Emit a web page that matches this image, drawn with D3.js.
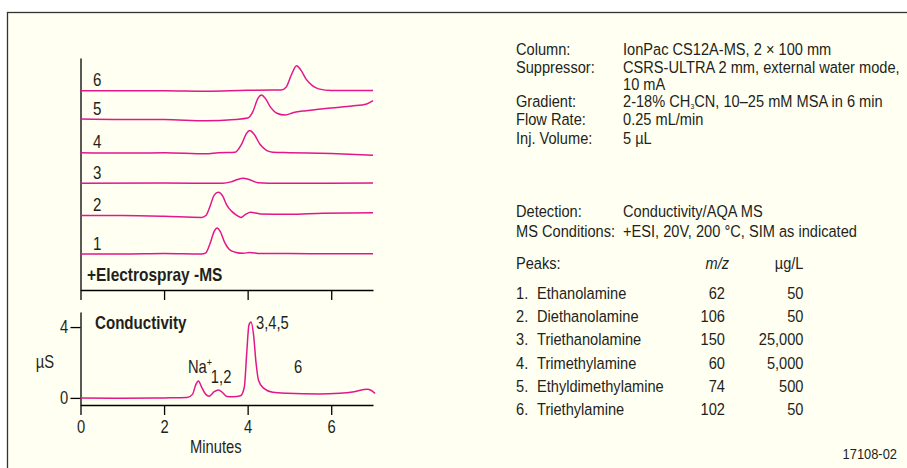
<!DOCTYPE html>
<html>
<head>
<meta charset="utf-8">
<script src="https://cdn.jsdelivr.net/npm/d3@7"></script>
<style>
  body { margin: 0; background: #fff; }
  svg text { font-family: "Liberation Sans", Arial, sans-serif; fill: #231f20; }
</style>
</head>
<body>
<div id="vis"></div>
<script>
// retention time axis, minutes
var timeTicks = [0, 2, 4, 6];
var condTicks = [0, 4];

// SIM channels, [minutes, relative response]
var msTrace1 = [[0, 0], [1, 0], [2, 0.02], [2.9, 0], [3.0, 0.05], [3.1, 0.45], [3.2, 0.98], [3.27, 1.12], [3.35, 0.95],
  [3.45, 0.5], [3.55, 0.22], [3.7, 0.08], [3.9, 0.03], [4.05, 0.07], [4.3, 0.02], [5, 0.02], [6, 0.01], [7, 0.01]];
var msTrace2 = [[0, 0], [1, 0], [2, -0.03], [2.9, -0.08], [3.0, 0], [3.1, 0.4], [3.2, 0.88], [3.3, 1.0], [3.4, 0.85],
  [3.5, 0.45], [3.62, 0.18], [3.75, 0], [3.84, -0.08], [3.95, 0.05], [4.07, 0.14], [4.3, 0.07], [5, 0.05], [5.8, 0.1], [7, 0.12]];
var msTrace3 = [[0, 0], [2, 0.01], [3.4, 0], [3.6, 0.06], [3.75, 0.16], [3.89, 0.22], [4.05, 0.15], [4.25, 0.02],
  [4.5, 0], [7, 0.01]];
var msTrace4 = [[0, 0], [1, -0.02], [2, 0], [3, -0.05], [3.3, 0], [3.7, 0.02], [3.85, 0.35], [3.97, 0.82], [4.05, 0.95],
  [4.15, 0.8], [4.3, 0.35], [4.45, 0.1], [4.6, 0.02], [5, 0], [6, -0.04], [7, -0.11]];
var msTrace5 = [[0, 0], [1, -0.02], [2, -0.02], [3, -0.08], [3.7, -0.02], [4.0, 0.04], [4.12, 0.3], [4.25, 0.9],
  [4.33, 1.03], [4.42, 0.9], [4.55, 0.5], [4.7, 0.25], [4.9, 0.17], [5.1, 0.28], [5.4, 0.36], [6, 0.48], [6.5, 0.56],
  [6.85, 0.65], [7, 0.79]];
var msTrace6 = [[0, 0], [1, 0], [2, 0], [3, -0.02], [4, 0.02], [4.8, 0.03], [4.92, 0.15], [5.05, 0.7], [5.17, 1.08],
  [5.27, 0.9], [5.4, 0.5], [5.55, 0.22], [5.7, 0.08], [6.0, 0.01], [7, 0.01]];
var msTraces = [msTrace1, msTrace2, msTrace3, msTrace4, msTrace5, msTrace6];
var msOffsets = [1.55, 3.21, 4.6, 5.92, 7.37, 8.59];

// suppressed conductivity, [minutes, uS]
var condTrace = [[0, 0], [1, -0.02], [2, 0], [2.55, 0.02], [2.68, 0.2], [2.76, 0.75], [2.82, 0.96], [2.9, 0.6],
  [3.0, 0.2], [3.08, 0.1], [3.2, 0.35], [3.3, 0.45], [3.4, 0.3], [3.5, 0.08], [3.65, 0.06], [3.83, 0.12], [3.92, 0.6],
  [3.98, 2.6], [4.03, 4.1], [4.08, 4.28], [4.14, 3.6], [4.2, 2.0], [4.26, 1.0], [4.38, 0.55], [4.6, 0.32], [4.94, 0.26],
  [5.7, 0.22], [6.2, 0.26], [6.55, 0.35], [6.86, 0.49], [6.96, 0.42], [7.05, 0.25]];
var condLabels = ['Na', '1,2', '3,4,5', '6'];
var condLabelTime = [2.57, 3.12, 4.2, 5.11];
var condLabelValue = [1.43, 0.85, 3.89, 1.41];

// conditions block
var condKeys = ['Column:', 'Suppressor:', '', 'Gradient:', 'Flow Rate:', 'Inj. Volume:', 'Detection:', 'MS Conditions:'];
var condValues = ['IonPac CS12A-MS, 2 \u00d7 100 mm', 'CSRS-ULTRA 2 mm, external water mode,', '10 mA',
  '2-18% CH_3CN, 10\u201325 mM MSA in 6 min', '0.25 mL/min', '5 \u00b5L', 'Conductivity/AQA MS',
  '+ESI, 20V, 200 \u00b0C, SIM as indicated'];
var condRowY = [55, 73, 90, 107, 125, 144, 217, 237];

var peakNames = ['Ethanolamine', 'Diethanolamine', 'Triethanolamine', 'Trimethylamine', 'Ethyldimethylamine', 'Triethylamine'];
var peakMz = [62, 106, 150, 60, 74, 102];
var peakConc = [50, 50, 25000, 5000, 500, 50];

var width = 907;
var height = 468;
var pink = '#e4168b';

var svg = d3.select('#vis').append('svg')
  .attr('width', width)
  .attr('height', height);

svg.append('rect')
  .attr('x', 7.5).attr('y', 12.5)
  .attr('width', 1000).attr('height', 1000)
  .attr('fill', '#fffff2')
  .attr('stroke', '#333')
  .attr('stroke-width', 1.3);

function addText(parent, x, y, str, o) {
  o = o || {};
  var t = parent.append('text')
    .attr('transform', 'translate(' + x + ',' + y + ') scale(' + (o.sx || 0.86) + ',1)')
    .attr('font-size', o.size || 17)
    .attr('text-anchor', o.anchor || 'start');
  if (o.bold) t.attr('font-weight', 'bold');
  if (o.italic) t.attr('font-style', 'italic');
  if (str !== null) t.text(str);
  return t;
}

var x = d3.scaleLinear().domain([0, 7]).range([80.5, 373]);
var yMS = d3.scaleLinear().domain([0, 10]).range([290, 58]);
var yC = d3.scaleLinear().domain([-0.4, 4.85]).range([405, 312]);

function styleAxis(g) {
  g.selectAll('path, line').attr('stroke', '#000').attr('stroke-width', 1.3);
  g.selectAll('text')
    .attr('font-size', 18)
    .attr('fill', '#231f20')
    .attr('font-family', '"Liberation Sans", Arial, sans-serif')
    .attr('transform', 'scale(0.82,1)');
}

// ---- MS panel
svg.append('g')
  .attr('transform', 'translate(0,' + yMS(0) + ')')
  .call(d3.axisBottom(x).tickValues(timeTicks).tickSize(10).tickSizeOuter(0).tickFormat(''))
  .call(styleAxis);
svg.append('g')
  .attr('transform', 'translate(' + x(0) + ',0)')
  .call(d3.axisLeft(yMS).tickValues([]).tickSizeOuter(0))
  .call(styleAxis);

var msLine = function (off) {
  return d3.line()
    .x(function (d) { return x(d[0]); })
    .y(function (d) { return yMS(off + d[1]); })
    .curve(d3.curveMonotoneX);
};

msTraces.forEach(function (tr, i) {
  svg.append('path')
    .attr('d', msLine(msOffsets[i])(tr))
    .attr('fill', 'none')
    .attr('stroke', pink)
    .attr('stroke-width', 1.5);
  addText(svg, 93, yMS(msOffsets[i]) - 4.5, String(i + 1), { size: 18, sx: 0.84 });
});

addText(svg, 87, 281, '+Electrospray -MS', { bold: true, size: 18, sx: 0.86 });

// ---- conductivity panel
svg.append('g')
  .attr('transform', 'translate(0,' + yC.range()[0] + ')')
  .call(d3.axisBottom(x).tickValues(timeTicks).tickSize(10).tickPadding(5).tickSizeOuter(0).tickFormat(d3.format('d')))
  .call(styleAxis);
svg.append('g')
  .attr('transform', 'translate(' + x(0) + ',0)')
  .call(d3.axisLeft(yC).tickValues(condTicks).tickSize(10).tickPadding(5).tickSizeOuter(0).tickFormat(d3.format('d')))
  .call(styleAxis);

svg.append('path')
  .attr('d', d3.line()
    .x(function (d) { return x(d[0]); })
    .y(function (d) { return yC(d[1]); })
    .curve(d3.curveMonotoneX)(condTrace))
  .attr('fill', 'none')
  .attr('stroke', pink)
  .attr('stroke-width', 1.5);

condLabels.forEach(function (lab, i) {
  var t = addText(svg, x(condLabelTime[i]), yC(condLabelValue[i]), lab, { size: 18, sx: 0.82 });
  if (lab === 'Na') {
    t.append('tspan').attr('font-size', 11).attr('dy', -7).text('+');
  }
});

addText(svg, 95, 329, 'Conductivity', { bold: true, size: 18, sx: 0.84 });
addText(svg, 45, 368, '\u00b5S', { anchor: 'middle', size: 18, sx: 0.82 });
addText(svg, (x(0) + x(7)) / 2 - 11, 453, 'Minutes', { anchor: 'middle', size: 18, sx: 0.82 });

// ---- conditions
condKeys.forEach(function (k, i) {
  if (k) addText(svg, 516, condRowY[i], k);
  var v = condValues[i];
  var t = addText(svg, 623, condRowY[i], null);
  if (v.indexOf('_') >= 0) {
    var parts = v.split('_');
    t.append('tspan').text(parts[0]);
    t.append('tspan').attr('font-size', 8).attr('dy', 2).text(parts[1].charAt(0));
    t.append('tspan').attr('dy', -2).text(parts[1].slice(1));
  } else {
    t.text(v);
  }
});

addText(svg, 516, 269, 'Peaks:');
addText(svg, 729, 269, 'm/z', { anchor: 'end', italic: true });
addText(svg, 803.5, 269, '\u00b5g/L', { anchor: 'end' });

var fmt = d3.format(',');
peakNames.forEach(function (name, i) {
  var yy = 299 + i * 23.2;
  addText(svg, 516, yy, (i + 1) + '.');
  addText(svg, 537, yy, name);
  addText(svg, 725, yy, String(peakMz[i]), { anchor: 'end' });
  addText(svg, 803.5, yy, fmt(peakConc[i]), { anchor: 'end' });
});

addText(svg, 897, 459, '17108-02', { anchor: 'end', size: 15, sx: 0.86 });
</script>
</body>
</html>
